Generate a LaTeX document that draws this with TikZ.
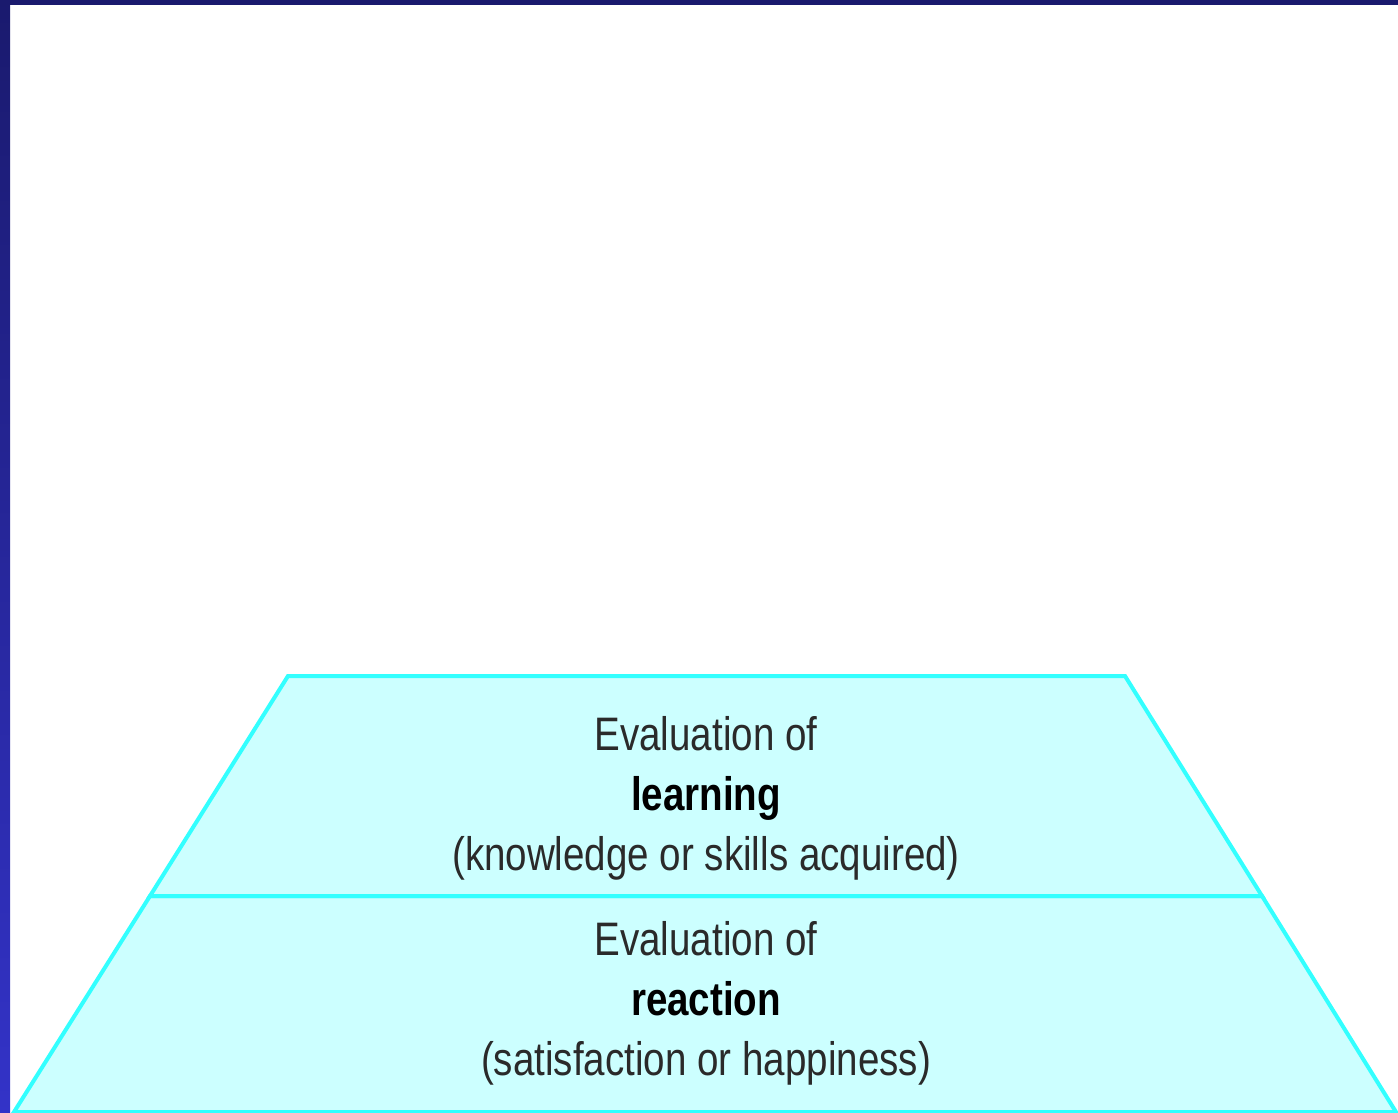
\documentclass[tikz,border=0pt]{standalone}
\usepackage{fontspec}
\setmainfont{Liberation Sans}[FakeStretch=0.82]
\definecolor{framedark}{HTML}{1A1A6E}
\definecolor{framelight}{HTML}{3333C8}
\definecolor{layerfill}{HTML}{CCFFFF}
\definecolor{layerline}{HTML}{33FFFF}
\definecolor{layertext}{HTML}{2A2A2A}
\tikzstyle{layer}=[fill=layerfill,draw=layerline,line width=2pt,line join=miter]
\tikzstyle{caption}=[align=center,text=layertext,font=\fontsize{23.5}{30}\selectfont]
\newcommand{\level}[2]{Evaluation of\\{\bfseries\color{black}#1}\\(#2)}

\begin{document}
\begin{tikzpicture}[x=0.5pt,y=-0.5pt]
    \useasboundingbox (0,0) rectangle (1398,1113);
    % frame on top and left
    \fill[framedark] (0,0) rectangle (1398,5);
    \shade[top color=framedark,bottom color=framelight] (0,0) rectangle (10,1113);

    % corners of the two layers
    \coordinate (tl) at (288,676);
    \coordinate (tr) at (1125,676);
    \coordinate (ml) at (150,896);
    \coordinate (mr) at (1262,896);
    \coordinate (bl) at (14,1112);
    \coordinate (br) at (1396,1112);

    \draw[layer] (ml) -- (bl) -- (br) -- (mr) -- cycle;
    \draw[layer] (tl) -- (tr) -- (mr) -- (ml) -- cycle;

    \node[caption] (learning) at (706,798) {\level{learning}{knowledge or skills acquired}};
    \node[caption] (reaction) at (706,1003) {\level{reaction}{satisfaction or happiness}};
\end{tikzpicture}
\end{document}
